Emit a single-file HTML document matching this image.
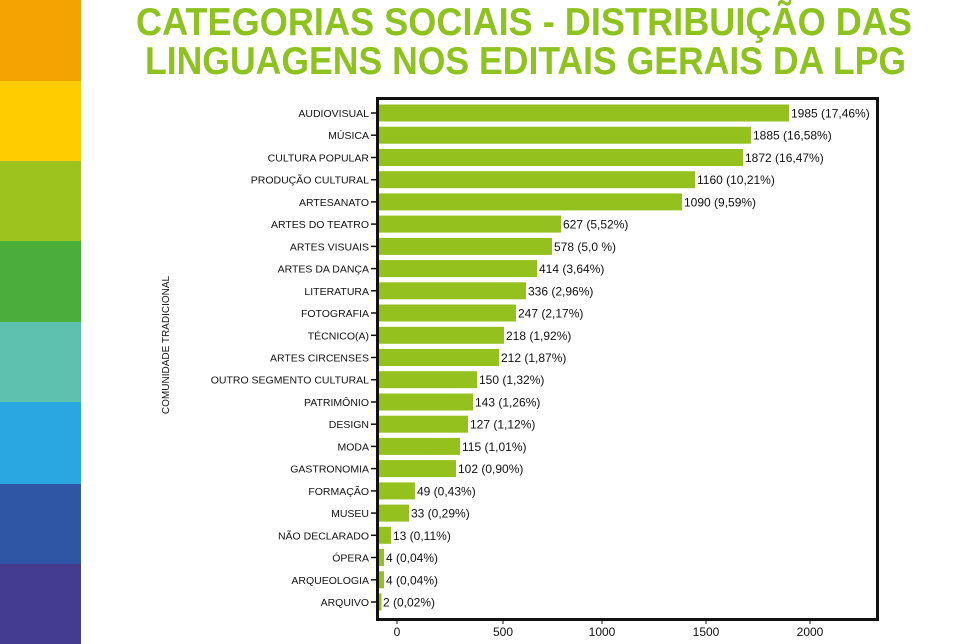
<!DOCTYPE html>
<html><head><meta charset="utf-8"><style>
html,body{margin:0;padding:0;background:#fff;}
svg{display:block;}
text{font-family:"Liberation Sans",sans-serif;}
</style></head><body>
<svg width="968" height="644" viewBox="0 0 968 644" xmlns="http://www.w3.org/2000/svg">
<rect width="968" height="644" fill="#fff"/>
<rect x="0" y="0" width="81" height="81" fill="#F5A300"/>
<rect x="0" y="81" width="81" height="80" fill="#FFCC00"/>
<rect x="0" y="161" width="81" height="80" fill="#9DC31F"/>
<rect x="0" y="241" width="81" height="81" fill="#4AAE3A"/>
<rect x="0" y="322" width="81" height="80" fill="#5EC0AE"/>
<rect x="0" y="402" width="81" height="82" fill="#2AA6E0"/>
<rect x="0" y="484" width="81" height="80" fill="#2E56A5"/>
<rect x="0" y="564" width="81" height="80" fill="#433C8F"/>
<text x="136" y="35" font-size="39" font-weight="bold" fill="#8DC21F" textLength="776" lengthAdjust="spacingAndGlyphs">CATEGORIAS SOCIAIS - DISTRIBUIÇÃO DAS</text>
<text x="145" y="74" font-size="39" font-weight="bold" fill="#8DC21F" textLength="761" lengthAdjust="spacingAndGlyphs">LINGUAGENS NOS EDITAIS GERAIS DA LPG</text>
<text transform="translate(169,345) rotate(-90)" text-anchor="middle" font-size="10" fill="#111">COMUNIDADE TRADICIONAL</text>

<g fill="#95C11F">
<rect x="379" y="104.5" width="410" height="17"/>
<rect x="379" y="126.7" width="372" height="17"/>
<rect x="379" y="149.0" width="364" height="17"/>
<rect x="379" y="171.2" width="316" height="17"/>
<rect x="379" y="193.4" width="303" height="17"/>
<rect x="379" y="215.6" width="182" height="17"/>
<rect x="379" y="237.9" width="173" height="17"/>
<rect x="379" y="260.1" width="158" height="17"/>
<rect x="379" y="282.3" width="147" height="17"/>
<rect x="379" y="304.5" width="137" height="17"/>
<rect x="379" y="326.8" width="125" height="17"/>
<rect x="379" y="349.0" width="120" height="17"/>
<rect x="379" y="371.2" width="98" height="17"/>
<rect x="379" y="393.5" width="94" height="17"/>
<rect x="379" y="415.7" width="89" height="17"/>
<rect x="379" y="437.9" width="81" height="17"/>
<rect x="379" y="460.1" width="77" height="17"/>
<rect x="379" y="482.4" width="36" height="17"/>
<rect x="379" y="504.6" width="30" height="17"/>
<rect x="379" y="526.8" width="12" height="17"/>
<rect x="379" y="549.0" width="5" height="17"/>
<rect x="379" y="571.3" width="5" height="17"/>
<rect x="379" y="593.5" width="2.5" height="17"/>
</g>

<g stroke="#111" stroke-width="1.5">
<line x1="371" x2="377" y1="113.0" y2="113.0"/><line x1="371" x2="377" y1="135.2" y2="135.2"/>
<line x1="371" x2="377" y1="157.5" y2="157.5"/><line x1="371" x2="377" y1="179.7" y2="179.7"/>
<line x1="371" x2="377" y1="201.9" y2="201.9"/><line x1="371" x2="377" y1="224.1" y2="224.1"/>
<line x1="371" x2="377" y1="246.4" y2="246.4"/><line x1="371" x2="377" y1="268.6" y2="268.6"/>
<line x1="371" x2="377" y1="290.8" y2="290.8"/><line x1="371" x2="377" y1="313.0" y2="313.0"/>
<line x1="371" x2="377" y1="335.3" y2="335.3"/><line x1="371" x2="377" y1="357.5" y2="357.5"/>
<line x1="371" x2="377" y1="379.7" y2="379.7"/><line x1="371" x2="377" y1="402.0" y2="402.0"/>
<line x1="371" x2="377" y1="424.2" y2="424.2"/><line x1="371" x2="377" y1="446.4" y2="446.4"/>
<line x1="371" x2="377" y1="468.6" y2="468.6"/><line x1="371" x2="377" y1="490.9" y2="490.9"/>
<line x1="371" x2="377" y1="513.1" y2="513.1"/><line x1="371" x2="377" y1="535.3" y2="535.3"/>
<line x1="371" x2="377" y1="557.5" y2="557.5"/><line x1="371" x2="377" y1="579.8" y2="579.8"/>
<line x1="371" x2="377" y1="602.0" y2="602.0"/>
</g>

<g font-size="10.5" fill="#111" text-anchor="end">
<text x="369" y="117.0">AUDIOVISUAL</text>
<text x="369" y="139.2">MÚSICA</text>
<text x="369" y="161.5">CULTURA POPULAR</text>
<text x="369" y="183.7">PRODUÇÃO CULTURAL</text>
<text x="369" y="205.9">ARTESANATO</text>
<text x="369" y="228.1">ARTES DO TEATRO</text>
<text x="369" y="250.4">ARTES VISUAIS</text>
<text x="369" y="272.6">ARTES DA DANÇA</text>
<text x="369" y="294.8">LITERATURA</text>
<text x="369" y="317.0">FOTOGRAFIA</text>
<text x="369" y="339.3">TÉCNICO(A)</text>
<text x="369" y="361.5">ARTES CIRCENSES</text>
<text x="369" y="383.7">OUTRO SEGMENTO CULTURAL</text>
<text x="369" y="406.0">PATRIMÔNIO</text>
<text x="369" y="428.2">DESIGN</text>
<text x="369" y="450.4">MODA</text>
<text x="369" y="472.6">GASTRONOMIA</text>
<text x="369" y="494.9">FORMAÇÃO</text>
<text x="369" y="517.1">MUSEU</text>
<text x="369" y="539.3">NÃO DECLARADO</text>
<text x="369" y="561.5">ÓPERA</text>
<text x="369" y="583.8">ARQUEOLOGIA</text>
<text x="369" y="606.0">ARQUIVO</text>
</g>

<g font-size="12" fill="#111">
<text x="791" y="117.5">1985 (17,46%)</text>
<text x="753" y="139.7">1885 (16,58%)</text>
<text x="745" y="162.0">1872 (16,47%)</text>
<text x="697" y="184.2">1160 (10,21%)</text>
<text x="684" y="206.4">1090 (9,59%)</text>
<text x="563" y="228.6">627 (5,52%)</text>
<text x="554" y="250.9">578 (5,0 %)</text>
<text x="539" y="273.1">414 (3,64%)</text>
<text x="528" y="295.3">336 (2,96%)</text>
<text x="518" y="317.5">247 (2,17%)</text>
<text x="506" y="339.8">218 (1,92%)</text>
<text x="501" y="362.0">212 (1,87%)</text>
<text x="479" y="384.2">150 (1,32%)</text>
<text x="475" y="406.5">143 (1,26%)</text>
<text x="470" y="428.7">127 (1,12%)</text>
<text x="462" y="450.9">115 (1,01%)</text>
<text x="458" y="473.1">102 (0,90%)</text>
<text x="417" y="495.4">49 (0,43%)</text>
<text x="411" y="517.6">33 (0,29%)</text>
<text x="393" y="539.8">13 (0,11%)</text>
<text x="386" y="562.0">4 (0,04%)</text>
<text x="386" y="584.3">4 (0,04%)</text>
<text x="383" y="606.5">2 (0,02%)</text>
</g>

<rect x="377.5" y="98.5" width="500" height="521" fill="none" stroke="#111" stroke-width="3"/>
<g font-size="12" fill="#111" text-anchor="middle">
<line x1="397" y1="620" x2="397" y2="624" stroke="#111"/><text x="397" y="636">0</text>
<line x1="503" y1="620" x2="503" y2="624" stroke="#111"/><text x="503" y="636">500</text>
<line x1="602" y1="620" x2="602" y2="624" stroke="#111"/><text x="602" y="636">1000</text>
<line x1="706" y1="620" x2="706" y2="624" stroke="#111"/><text x="706" y="636">1500</text>
<line x1="810" y1="620" x2="810" y2="624" stroke="#111"/><text x="810" y="636">2000</text>
</g>
</svg>
</body></html>
